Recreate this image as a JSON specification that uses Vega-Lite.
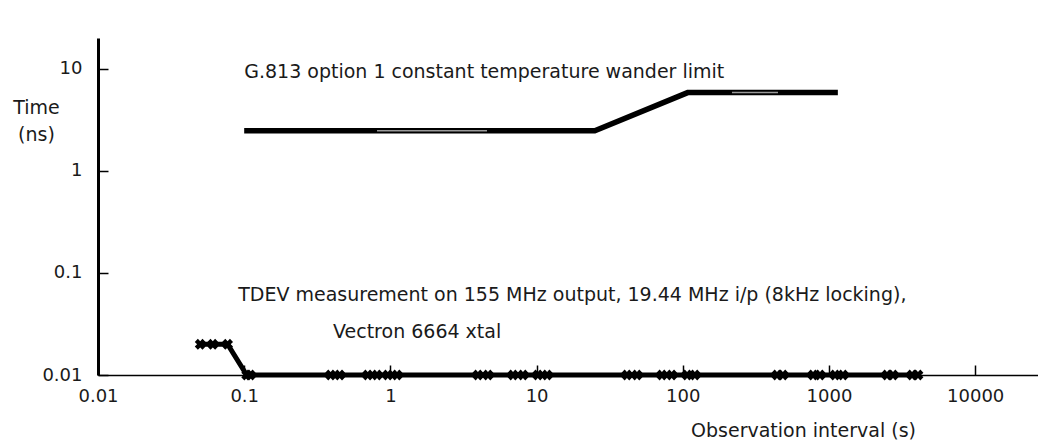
{
  "$schema": "https://vega.github.io/schema/vega-lite/v6.json",
  "autosize": "none",
  "width": 940,
  "height": 337,
  "padding": {"left": 98, "top": 38, "right": 0, "bottom": 69},
  "background": "white",
  "config": {
    "view": {"stroke": null},
    "axis": {"labelFont": "DejaVu Sans", "titleFont": "DejaVu Sans", "labelColor": "#1a1a1a", "titleColor": "#1a1a1a", "grid": false, "domainColor": "black", "tickColor": "black"}
  },
  "datasets": {
    "g813": [
      {"x": 0.1, "y": 2.48},
      {"x": 25, "y": 2.48},
      {"x": 108, "y": 5.86},
      {"x": 1150, "y": 5.86}
    ],
    "hl": [
      {"seg": "a", "x": 0.81, "y": 2.48},
      {"seg": "a", "x": 4.58, "y": 2.48},
      {"seg": "b", "x": 217, "y": 5.86},
      {"seg": "b", "x": 448, "y": 5.86}
    ],
    "tdev": [
      {"x": 0.05, "y": 0.02},
      {"x": 0.061, "y": 0.02},
      {"x": 0.077, "y": 0.02},
      {"x": 0.104, "y": 0.01},
      {"x": 0.11, "y": 0.01},
      {"x": 0.39, "y": 0.01},
      {"x": 0.45, "y": 0.01},
      {"x": 0.7, "y": 0.01},
      {"x": 0.81, "y": 0.01},
      {"x": 0.96, "y": 0.01},
      {"x": 1.11, "y": 0.01},
      {"x": 3.97, "y": 0.01},
      {"x": 4.65, "y": 0.01},
      {"x": 6.9, "y": 0.01},
      {"x": 8.07, "y": 0.01},
      {"x": 10.2, "y": 0.01},
      {"x": 11.8, "y": 0.01},
      {"x": 41.5, "y": 0.01},
      {"x": 48.6, "y": 0.01},
      {"x": 72, "y": 0.01},
      {"x": 84, "y": 0.01},
      {"x": 107, "y": 0.01},
      {"x": 121, "y": 0.01},
      {"x": 441, "y": 0.01},
      {"x": 484, "y": 0.01},
      {"x": 778, "y": 0.01},
      {"x": 868, "y": 0.01},
      {"x": 1100, "y": 0.01},
      {"x": 1247, "y": 0.01},
      {"x": 2493, "y": 0.01},
      {"x": 2742, "y": 0.01},
      {"x": 3699, "y": 0.01},
      {"x": 4064, "y": 0.01}
    ],
    "notes": [
      {"x": 0.1, "y": 9.3, "label": "G.813 option 1 constant temperature wander limit"},
      {"x": 0.091, "y": 0.0608, "label": "TDEV measurement on 155 MHz output, 19.44 MHz i/p (8kHz locking),"},
      {"x": 0.405, "y": 0.0264, "label": "Vectron 6664 xtal"}
    ]
  },
  "encoding": {
    "x": {
      "field": "x", "type": "quantitative",
      "scale": {"type": "log", "domain": [0.01, 26900], "nice": false},
      "axis": {
        "values": [0.01, 0.1, 1, 10, 100, 1000, 10000],
        "format": "~g",
        "title": "Observation interval (s)",
        "titleFontSize": 19, "titleFontWeight": "normal",
        "titleAnchor": null, "titleAlign": "center", "titleBaseline": "middle",
        "titleX": 705, "titleY": 55,
        "labelFontSize": 18, "labelPadding": 22, "labelFlush": false,
        "tickSize": -10, "tickWidth": 1.5, "domainWidth": 1.5
      }
    },
    "y": {
      "field": "y", "type": "quantitative",
      "scale": {"type": "log", "domain": [0.01, 20.1], "nice": false},
      "axis": {
        "values": [0.01, 0.1, 1, 10],
        "format": "~g",
        "title": ["Time", "(ns)"],
        "titleAngle": 0, "titleFontSize": 19, "titleFontWeight": "normal",
        "titleAnchor": null, "titleAlign": "center", "titleBaseline": "top",
        "titleX": -62, "titleY": 60, "titleLineHeight": 27,
        "labelFontSize": 18, "labelPadding": 26, "labelFlush": false,
        "tickSize": -10, "tickWidth": 1.5, "domainWidth": 3
      }
    }
  },
  "layer": [
    {
      "data": {"name": "g813"},
      "mark": {"type": "line", "color": "black", "strokeWidth": 5.5, "strokeJoin": "miter"}
    },
    {
      "data": {"name": "hl"},
      "mark": {"type": "line", "color": "#9a9a9a", "strokeWidth": 1.5},
      "encoding": {"detail": {"field": "seg"}}
    },
    {
      "data": {"name": "tdev"},
      "mark": {"type": "line", "color": "black", "strokeWidth": 5}
    },
    {
      "data": {"name": "tdev"},
      "mark": {"type": "point", "shape": "cross", "angle": 45, "size": 120, "filled": true, "color": "black", "opacity": 1}
    },
    {
      "data": {"name": "notes"},
      "mark": {"type": "text", "align": "left", "baseline": "middle", "font": "DejaVu Sans", "fontSize": 19, "color": "#1a1a1a"},
      "encoding": {"text": {"field": "label"}}
    }
  ]
}
